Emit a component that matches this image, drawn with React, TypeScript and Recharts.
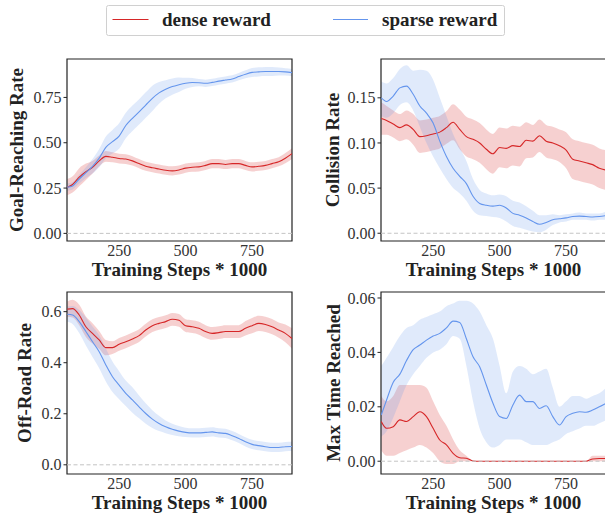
import { ComposedChart, Area, Line, XAxis, YAxis, ReferenceLine, ReferenceArea } from 'recharts';

const FONT = "'Liberation Serif', 'Times New Roman', serif";
const DENSE = '#d62728';
const SPARSE = '#6495ed';

// training steps (x 1000)
const steps = [55, 75, 100, 125, 150, 175, 200, 225, 250, 275, 300, 325, 350, 375, 400, 425, 450, 475, 500, 525, 550, 575, 600, 625, 650, 675, 700, 725, 750, 775, 800, 825, 850, 875, 900];
const xTicks = [250, 500, 750];

// Goal-Reaching Rate
const goalDense = [0.255, 0.27, 0.31, 0.34, 0.365, 0.4, 0.425, 0.42, 0.413, 0.41, 0.4, 0.385, 0.37, 0.362, 0.355, 0.348, 0.345, 0.35, 0.36, 0.365, 0.367, 0.375, 0.385, 0.385, 0.38, 0.385, 0.385, 0.375, 0.367, 0.37, 0.375, 0.385, 0.395, 0.415, 0.44];
const goalDenseLo = [0.21, 0.225, 0.26, 0.295, 0.33, 0.37, 0.395, 0.392, 0.386, 0.383, 0.374, 0.36, 0.345, 0.337, 0.33, 0.323, 0.32, 0.325, 0.335, 0.34, 0.342, 0.35, 0.36, 0.36, 0.355, 0.36, 0.36, 0.35, 0.342, 0.345, 0.35, 0.36, 0.37, 0.387, 0.41];
const goalDenseHi = [0.3, 0.315, 0.36, 0.385, 0.4, 0.43, 0.455, 0.448, 0.44, 0.437, 0.426, 0.41, 0.395, 0.387, 0.38, 0.373, 0.37, 0.375, 0.385, 0.39, 0.392, 0.4, 0.41, 0.41, 0.405, 0.41, 0.41, 0.4, 0.392, 0.395, 0.4, 0.41, 0.42, 0.443, 0.47];
const goalSparse = [0.255, 0.262, 0.3, 0.335, 0.37, 0.415, 0.475, 0.506, 0.537, 0.595, 0.635, 0.67, 0.708, 0.745, 0.775, 0.795, 0.81, 0.82, 0.828, 0.832, 0.831, 0.828, 0.833, 0.84, 0.846, 0.852, 0.865, 0.878, 0.888, 0.891, 0.893, 0.893, 0.893, 0.891, 0.887];
const goalSparseLo = [0.235, 0.242, 0.275, 0.305, 0.33, 0.365, 0.415, 0.441, 0.467, 0.525, 0.565, 0.6, 0.638, 0.675, 0.715, 0.745, 0.765, 0.78, 0.798, 0.807, 0.811, 0.808, 0.813, 0.82, 0.826, 0.832, 0.845, 0.856, 0.863, 0.866, 0.868, 0.868, 0.871, 0.871, 0.867];
const goalSparseHi = [0.275, 0.282, 0.325, 0.365, 0.41, 0.465, 0.535, 0.571, 0.607, 0.665, 0.705, 0.74, 0.778, 0.815, 0.835, 0.845, 0.855, 0.86, 0.858, 0.857, 0.851, 0.848, 0.853, 0.86, 0.866, 0.872, 0.885, 0.9, 0.913, 0.916, 0.918, 0.918, 0.915, 0.911, 0.907];

// Collision Rate
const collDense = [0.127, 0.125, 0.121, 0.117, 0.12, 0.115, 0.107, 0.108, 0.11, 0.112, 0.117, 0.123, 0.115, 0.107, 0.104, 0.1, 0.093, 0.088, 0.095, 0.094, 0.097, 0.096, 0.103, 0.102, 0.108, 0.102, 0.1, 0.097, 0.092, 0.082, 0.08, 0.078, 0.076, 0.072, 0.07];
const collDenseLo = [0.109, 0.109, 0.106, 0.102, 0.104, 0.098, 0.089, 0.09, 0.092, 0.094, 0.099, 0.103, 0.093, 0.085, 0.082, 0.078, 0.071, 0.066, 0.073, 0.072, 0.075, 0.074, 0.083, 0.084, 0.09, 0.084, 0.082, 0.079, 0.072, 0.06, 0.058, 0.056, 0.054, 0.05, 0.048];
const collDenseHi = [0.145, 0.141, 0.136, 0.132, 0.136, 0.132, 0.125, 0.126, 0.128, 0.13, 0.135, 0.143, 0.137, 0.129, 0.126, 0.122, 0.115, 0.11, 0.117, 0.116, 0.119, 0.118, 0.123, 0.12, 0.126, 0.12, 0.118, 0.115, 0.112, 0.104, 0.102, 0.1, 0.098, 0.094, 0.092];
const collSparse = [0.15, 0.146, 0.152, 0.161, 0.163, 0.154, 0.141, 0.133, 0.122, 0.102, 0.085, 0.072, 0.063, 0.055, 0.041, 0.033, 0.031, 0.03, 0.031, 0.028, 0.022, 0.02, 0.017, 0.013, 0.01, 0.012, 0.015, 0.016, 0.017, 0.0185, 0.019, 0.0185, 0.018, 0.0185, 0.0195];
const collSparseLo = [0.13, 0.128, 0.133, 0.142, 0.145, 0.136, 0.118, 0.1, 0.085, 0.072, 0.06, 0.05, 0.044, 0.036, 0.025, 0.02, 0.019, 0.018, 0.017, 0.013, 0.008, 0.006, 0.004, 0.002, 0.001, 0.004, 0.009, 0.012, 0.013, 0.015, 0.015, 0.015, 0.014, 0.015, 0.015];
const collSparseHi = [0.168, 0.166, 0.172, 0.182, 0.186, 0.18, 0.181, 0.18, 0.17, 0.15, 0.13, 0.11, 0.095, 0.08, 0.06, 0.048, 0.044, 0.042, 0.043, 0.041, 0.036, 0.034, 0.03, 0.025, 0.02, 0.02, 0.021, 0.02, 0.021, 0.022, 0.023, 0.022, 0.022, 0.022, 0.024];

// Off-Road Rate
const offDense = [0.61, 0.612, 0.587, 0.541, 0.515, 0.489, 0.459, 0.459, 0.472, 0.482, 0.493, 0.506, 0.528, 0.545, 0.554, 0.561, 0.57, 0.566, 0.545, 0.541, 0.535, 0.522, 0.515, 0.518, 0.522, 0.522, 0.522, 0.535, 0.545, 0.554, 0.55, 0.541, 0.528, 0.515, 0.495];
const offDenseLo = [0.58, 0.577, 0.547, 0.501, 0.475, 0.454, 0.429, 0.434, 0.447, 0.457, 0.468, 0.481, 0.503, 0.52, 0.529, 0.536, 0.545, 0.541, 0.52, 0.516, 0.51, 0.497, 0.49, 0.493, 0.497, 0.497, 0.497, 0.507, 0.515, 0.524, 0.52, 0.511, 0.498, 0.48, 0.455];
const offDenseHi = [0.64, 0.647, 0.627, 0.581, 0.555, 0.524, 0.489, 0.484, 0.497, 0.507, 0.518, 0.531, 0.553, 0.57, 0.579, 0.586, 0.595, 0.591, 0.57, 0.566, 0.56, 0.547, 0.54, 0.543, 0.547, 0.547, 0.547, 0.563, 0.575, 0.584, 0.58, 0.571, 0.558, 0.55, 0.535];
const offSparse = [0.59, 0.587, 0.561, 0.522, 0.482, 0.443, 0.391, 0.345, 0.312, 0.28, 0.254, 0.227, 0.201, 0.179, 0.162, 0.149, 0.139, 0.132, 0.127, 0.125, 0.125, 0.127, 0.129, 0.125, 0.123, 0.114, 0.103, 0.09, 0.08, 0.075, 0.071, 0.068, 0.068, 0.071, 0.072];
const offSparseLo = [0.56, 0.552, 0.516, 0.467, 0.422, 0.378, 0.326, 0.285, 0.257, 0.23, 0.204, 0.182, 0.161, 0.144, 0.132, 0.124, 0.117, 0.112, 0.109, 0.107, 0.107, 0.109, 0.111, 0.107, 0.105, 0.096, 0.085, 0.072, 0.062, 0.057, 0.053, 0.05, 0.05, 0.053, 0.054];
const offSparseHi = [0.62, 0.622, 0.606, 0.577, 0.542, 0.508, 0.456, 0.405, 0.367, 0.33, 0.304, 0.272, 0.241, 0.214, 0.192, 0.174, 0.161, 0.152, 0.145, 0.143, 0.143, 0.145, 0.147, 0.143, 0.141, 0.132, 0.121, 0.108, 0.098, 0.093, 0.089, 0.086, 0.086, 0.089, 0.09];

// Max Time Reached
const maxDense = [0.0146, 0.0121, 0.0127, 0.0152, 0.0146, 0.0164, 0.0182, 0.0164, 0.0121, 0.0078, 0.006, 0.0029, 0.0013, 0.0011, 0.0001, 0, 0, 0, 0, 0, 0, 0, 0, 0, 0, 0, 0, 0, 0, 0, 0, 0, 0.0008, 0.001, 0.001];
const maxDenseLo = [0.004, 0.002, 0.002, 0.003, 0.004, 0.005, 0.006, 0.005, 0.003, 0, -0.001, -0.001, 0, 0, 0, 0, 0, 0, 0, 0, 0, 0, 0, 0, 0, 0, 0, 0, 0, 0, 0, 0, 0, 0, 0];
const maxDenseHi = [0.024, 0.022, 0.024, 0.028, 0.028, 0.028, 0.028, 0.027, 0.022, 0.017, 0.013, 0.008, 0.004, 0.002, 0.0002, 0, 0, 0, 0, 0, 0, 0, 0, 0, 0, 0, 0, 0, 0, 0, 0, 0, 0.002, 0.002, 0.002];
const maxSparse = [0.017, 0.0225, 0.029, 0.032, 0.037, 0.041, 0.0427, 0.0445, 0.046, 0.047, 0.049, 0.0515, 0.051, 0.045, 0.0384, 0.0347, 0.028, 0.0213, 0.0164, 0.0157, 0.0207, 0.0243, 0.0219, 0.0219, 0.0194, 0.0204, 0.0164, 0.0133, 0.0164, 0.0176, 0.0182, 0.018, 0.0188, 0.02, 0.0213];
const maxSparseLo = [0.009, 0.011, 0.016, 0.022, 0.028, 0.032, 0.035, 0.038, 0.04, 0.041, 0.043, 0.046, 0.045, 0.035, 0.022, 0.012, 0.007, 0.005, 0.006, 0.008, 0.008, 0.008, 0.007, 0.006, 0.006, 0.006, 0.007, 0.008, 0.01, 0.011, 0.012, 0.013, 0.013, 0.014, 0.015];
const maxSparseHi = [0.035, 0.038, 0.042, 0.046, 0.049, 0.05, 0.052, 0.053, 0.054, 0.055, 0.057, 0.058, 0.059, 0.059, 0.058, 0.055, 0.05, 0.045, 0.035, 0.025, 0.033, 0.035, 0.034, 0.032, 0.033, 0.034, 0.027, 0.02, 0.022, 0.024, 0.024, 0.023, 0.024, 0.025, 0.027];

const PLOT_W = 225;
const PLOT_H = 182;
const AXIS_W = 62;

interface PanelProps {
  px: number;
  py: number;
  yDomain: [number, number];
  yTicks: number[];
  digits: number;
  dense: number[];
  denseLo: number[];
  denseHi: number[];
  sparse: number[];
  sparseLo: number[];
  sparseHi: number[];
}

function Panel(p: PanelProps) {
  const data = steps.map((x, i) => ({
    x,
    dense: p.dense[i],
    denseBand: [p.denseLo[i], p.denseHi[i]],
    sparse: p.sparse[i],
    sparseBand: [p.sparseLo[i], p.sparseHi[i]],
  }));
  const xDomain: [number, number] = [54, 900];

  return (
    <div style={{ position: 'absolute', left: p.px - AXIS_W, top: p.py - 6 }}>
      <ComposedChart
        width={AXIS_W + PLOT_W + 8}
        height={6 + PLOT_H + 34}
        data={data}
        margin={{ top: 6, right: 8, bottom: 0, left: 0 }}
      >
        <XAxis
          dataKey="x"
          type="number"
          domain={xDomain}
          ticks={xTicks}
          allowDataOverflow
          axisLine={false}
          tickLine={false}
          tickSize={0}
          tickMargin={4}
          height={34}
          tick={{ fill: '#333', fontSize: 16, fontFamily: FONT }}
        />
        <YAxis
          type="number"
          domain={p.yDomain}
          ticks={p.yTicks}
          allowDataOverflow
          axisLine={false}
          tickLine={{ stroke: '#222' }}
          tickSize={3.5}
          tickMargin={2}
          width={AXIS_W}
          tickFormatter={(v: number) => v.toFixed(p.digits)}
          tick={{ fill: '#333', fontSize: 16, fontFamily: FONT }}
        />
        <Area type="monotone" dataKey="denseBand" stroke="none" fill={DENSE} fillOpacity={0.22} isAnimationActive={false} />
        <Area type="monotone" dataKey="sparseBand" stroke="none" fill={SPARSE} fillOpacity={0.2} isAnimationActive={false} />
        <Line type="monotone" dataKey="dense" stroke={DENSE} strokeWidth={1.1} dot={false} isAnimationActive={false} />
        <Line type="monotone" dataKey="sparse" stroke={SPARSE} strokeWidth={1.1} dot={false} isAnimationActive={false} />
        <ReferenceLine y={0} stroke="#c4c4c4" strokeDasharray="4 2.5" strokeWidth={1} />
        <ReferenceArea
          x1={xDomain[0]}
          x2={xDomain[1]}
          y1={p.yDomain[0]}
          y2={p.yDomain[1]}
          fill="none"
          stroke="#222"
          strokeWidth={1.2}
          fillOpacity={0}
        />
      </ComposedChart>
    </div>
  );
}

const labelStyle = { fontFamily: FONT, fontSize: 19, fontWeight: 700, fill: '#222' };

export default function App() {
  return (
    <div style={{ position: 'absolute', left: 0, top: 0, width: 605, height: 515, overflow: 'hidden', background: '#fff' }}>
      <Panel px={67} py={59} yDomain={[-0.042, 0.962]} yTicks={[0, 0.25, 0.5, 0.75]} digits={2}
        dense={goalDense} denseLo={goalDenseLo} denseHi={goalDenseHi}
        sparse={goalSparse} sparseLo={goalSparseLo} sparseHi={goalSparseHi} />
      <Panel px={381} py={59} yDomain={[-0.0086, 0.193]} yTicks={[0, 0.05, 0.1, 0.15]} digits={2}
        dense={collDense} denseLo={collDenseLo} denseHi={collDenseHi}
        sparse={collSparse} sparseLo={collSparseLo} sparseHi={collSparseHi} />
      <Panel px={67} py={292} yDomain={[-0.036, 0.677]} yTicks={[0, 0.2, 0.4, 0.6]} digits={1}
        dense={offDense} denseLo={offDenseLo} denseHi={offDenseHi}
        sparse={offSparse} sparseLo={offSparseLo} sparseHi={offSparseHi} />
      <Panel px={381} py={292} yDomain={[-0.0047, 0.0622]} yTicks={[0, 0.02, 0.04, 0.06]} digits={2}
        dense={maxDense} denseLo={maxDenseLo} denseHi={maxDenseHi}
        sparse={maxSparse} sparseLo={maxSparseLo} sparseHi={maxSparseHi} />

      <svg width={605} height={515} style={{ position: 'absolute', left: 0, top: 0, pointerEvents: 'none' }}>
        <rect x={106.5} y={5.5} width={398} height={30} rx={2} fill="#fff" stroke="#d0d0d0" strokeWidth={1} />
        <line x1={112.5} x2={148.5} y1={19.5} y2={19.5} stroke={DENSE} strokeWidth={1.2} />
        <text x={162} y={26} style={labelStyle}>dense reward</text>
        <line x1={333} x2={368} y1={19.5} y2={19.5} stroke={SPARSE} strokeWidth={1.2} />
        <text x={382} y={26} style={labelStyle}>sparse reward</text>

        <text x={179.5} y={276} textAnchor="middle" style={labelStyle}>Training Steps * 1000</text>
        <text x={493.5} y={276} textAnchor="middle" style={labelStyle}>Training Steps * 1000</text>
        <text x={179.5} y={509} textAnchor="middle" style={labelStyle}>Training Steps * 1000</text>
        <text x={493.5} y={509} textAnchor="middle" style={labelStyle}>Training Steps * 1000</text>

        <text x={23} y={150} textAnchor="middle" transform="rotate(-90 23 150)" style={labelStyle}>Goal-Reaching Rate</text>
        <text x={339} y={150} textAnchor="middle" transform="rotate(-90 339 150)" style={labelStyle}>Collision Rate</text>
        <text x={31} y={383} textAnchor="middle" transform="rotate(-90 31 383)" style={labelStyle}>Off-Road Rate</text>
        <text x={339.5} y={383} textAnchor="middle" transform="rotate(-90 339.5 383)" style={labelStyle}>Max Time Reached</text>
      </svg>
    </div>
  );
}
